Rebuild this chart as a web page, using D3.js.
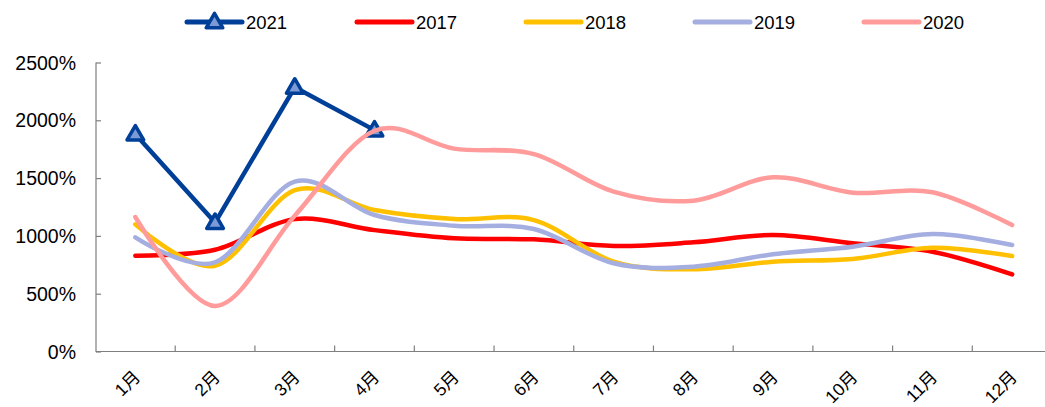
<!DOCTYPE html>
<html><head><meta charset="utf-8">
<script src="https://cdn.jsdelivr.net/npm/d3@7"></script>
<style>body{margin:0;background:#fff}svg{display:block}</style>
</head><body>
<svg id="c" width="1045" height="407"></svg>
<script>
const months = ["1月","2月","3月","4月","5月","6月","7月","8月","9月","10月","11月","12月"];
const yTicks = [0,500,1000,1500,2000,2500];
const v2021 = [1880,1115,2285,1915];
const v2017 = [829,880,1145,1050,979,970,913,945,1008,936,863,667];
const v2018 = [1100,742,1395,1224,1146,1137,777,711,777,800,898,826];
const v2019 = [988,772,1470,1181,1088,1060,763,734,841,907,1016,921];
const v2020 = [1163,394,1175,1910,1755,1708,1383,1305,1507,1374,1377,1094];
const seriesNames = ["2021","2017","2018","2019","2020"];
const seriesColors = ["#003f98","#ff0000","#ffc000","#a5aee0","#ff9b9b"];

const svg = d3.select("#c");
const font = "'Liberation Sans', Arial, 'Noto Sans CJK SC', sans-serif";
const x = d3.scaleBand().domain(months).range([95.5,1052]);
const cx = m => x(m) + x.bandwidth()/2;
const y = d3.scaleLinear().domain([0,2500]).range([351.5,62.5]);

// axes
const yAxis = svg.append("g").attr("transform","translate(96,0)")
  .call(d3.axisRight(y).tickValues(yTicks).tickSize(5).tickFormat(""));
yAxis.select(".domain").attr("d","M0,62.5V351.5");
yAxis.selectAll("line,path").attr("stroke","#7f7f7f").attr("stroke-width",1.2);
svg.append("g").selectAll("text").data(yTicks).join("text")
  .attr("x",76).attr("y",d=>y(d)).attr("dy","0.36em").attr("text-anchor","end")
  .attr("font-family",font).attr("font-size",19.5).attr("fill","#000")
  .text(d=>d+"%");

const xAxis = svg.append("g").attr("transform","translate(0,351.5)")
  .call(d3.axisTop(x).tickSize(0).tickFormat(""));
xAxis.select(".domain").attr("d","M95.5,0H1052");
xAxis.selectAll("line,path").attr("stroke","#7f7f7f").attr("stroke-width",1.2);
svg.append("g").selectAll("line").data(months.slice(1)).join("line")
  .attr("x1",d=>x(d)).attr("x2",d=>x(d)).attr("y1",351.5).attr("y2",345.5)
  .attr("stroke","#7f7f7f").attr("stroke-width",1.2);
svg.append("g").selectAll("text").data(months).join("text")
  .attr("transform",d=>`translate(${cx(d)+6},378) rotate(-45)`)
  .attr("text-anchor","end").attr("font-family",font).attr("font-size",17.5)
  .attr("fill","#000").text(d=>d);

// lines
const curve = d3.line().x((d,i)=>cx(months[i])).y(d=>y(d)).curve(d3.curveCatmullRom.alpha(0));
const straight = d3.line().x((d,i)=>cx(months[i])).y(d=>y(d));
const tri = d3.symbol().type(d3.symbolTriangle).size(120);

svg.append("path").attr("d",straight(v2021)).attr("fill","none")
  .attr("stroke",seriesColors[0]).attr("stroke-width",4.5).attr("stroke-linejoin","round");
svg.append("g").selectAll("path").data(v2021).join("path")
  .attr("d",tri).attr("transform",(d,i)=>`translate(${cx(months[i])},${y(d)+1})`)
  .attr("fill","#7b9ad6").attr("stroke",seriesColors[0]).attr("stroke-width",3.5).attr("stroke-linejoin","round");

[v2017,v2018,v2019,v2020].forEach((vals,k)=>{
  svg.append("path").attr("d",curve(vals)).attr("fill","none")
    .attr("stroke",seriesColors[k+1]).attr("stroke-width",4.5)
    .attr("stroke-linecap","round").attr("stroke-linejoin","round");
});

// legend
const legX = [187,357,526,695,864];
const leg = svg.append("g");
seriesNames.forEach((n,i)=>{
  leg.append("line").attr("x1",legX[i]).attr("x2",legX[i]+55).attr("y1",22).attr("y2",22)
    .attr("stroke",seriesColors[i]).attr("stroke-width",5).attr("stroke-linecap","round");
  if(i===0){
    leg.append("path").attr("d",tri).attr("transform",`translate(${legX[i]+27.5},23)`)
      .attr("fill","#7b9ad6").attr("stroke",seriesColors[0]).attr("stroke-width",3.5).attr("stroke-linejoin","round");
  }
  leg.append("text").attr("x",legX[i]+59).attr("y",22).attr("dy","0.36em")
    .attr("font-family",font).attr("font-size",18.5).attr("fill","#000").text(n);
});
</script>
</body></html>
